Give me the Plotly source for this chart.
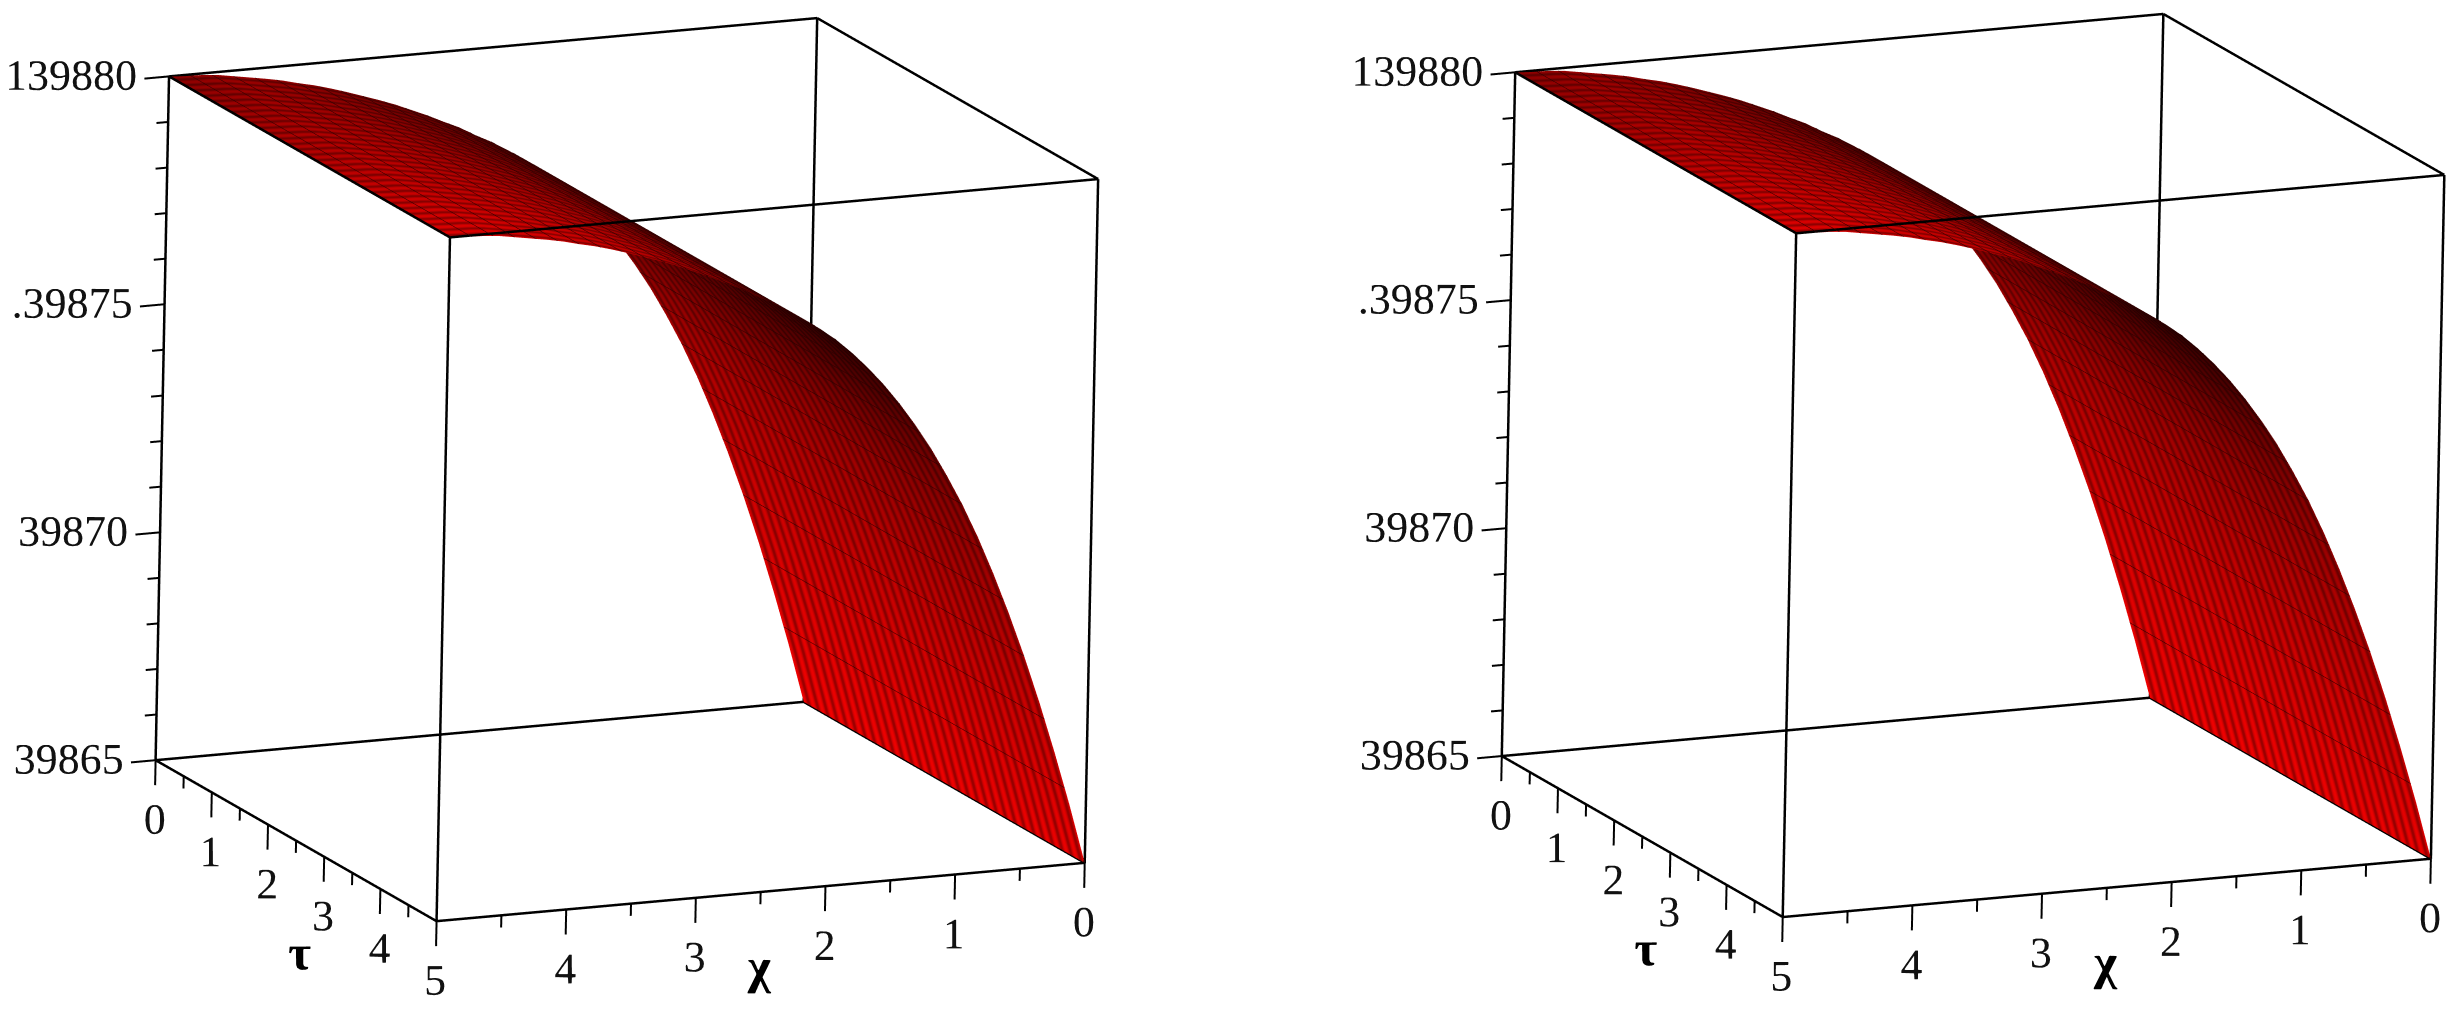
import numpy as np
import plotly.graph_objects as go

chi_values = [5.0,4.875,4.75,4.625,4.5,4.375,4.25,4.125,4.0,3.875,3.75,3.625,3.5,3.375,3.25,3.125,3.0,2.875,2.75,2.625,2.5,2.375,2.25,2.125,2.0,1.875,1.75,1.625,1.5,1.375,1.25,1.125,1.0,0.875,0.75,0.625,0.5,0.375,0.25,0.125,0.0]
u_profile = [39880.00,39879.98,39879.97,39879.94,39879.88,39879.82,39879.76,39879.69,39879.60,39879.52,39879.42,39879.31,39879.19,39879.07,39878.94,39878.79,39878.64,39878.47,39878.31,39878.11,39877.93,39877.72,39877.50,39877.26,39876.99,39876.67,39876.31,39875.91,39875.46,39874.96,39874.41,39873.79,39873.12,39872.37,39871.54,39870.64,39869.67,39868.62,39867.49,39866.29,39865.00]
shade_x = [5,4.5,4,3.5,3,2.5,2,1.5,1,0.5,0]
shade_tau0 = [.55,.60,.55,.45,.38,.30,.36,.50,.68,.82,.94]
shade_tau5 = [.88,.85,.82,.75,.60,.35,.17,.30,.52,.72,.92]
stripe_shade = [1.0,1.0,0.88,0.66,0.66,0.88]

x_major = [0,1,2,3,4,5]
x_minor = [0.5,1.5,2.5,3.5,4.5]
tau_major = [0,1,2,3,4,5]
tau_minor = [0.5,1.5,2.5,3.5,4.5]
z_major = [39865,39870,39875,39880]
z_minor = [39866,39867,39868,39869,39871,39872,39873,39874,39876,39877,39878,39879]
x_labels = ["0","1","2","3","4","5"]
tau_labels = ["0","1","2","3","4","5"]
z_labels = ["39865","39870",".39875","139880"]

X0,X1 = 0,5
T0,T1 = 0,5
Z0,Z1 = 39865,39880
FONT = "Liberation Serif"
CELLS = 30
SUB = len(stripe_shade)

tau_grid = np.linspace(0,5,CELLS*SUB+1)
stripe = np.array([stripe_shade[i%SUB] for i in range(len(tau_grid))])
Z = np.tile(np.array(u_profile)[:,None],(1,len(tau_grid))).T
xs_sorted = np.array(shade_x)[::-1]
b0 = np.interp(chi_values,xs_sorted,np.array(shade_tau0)[::-1])
b5 = np.interp(chi_values,xs_sorted,np.array(shade_tau5)[::-1])
w = tau_grid[:,None]/5.0
C = (b0[None,:]*(1-w)+b5[None,:]*w)*stripe[:,None]

def seg(pairs):
    xs,ys,zs=[],[],[]
    for a,b in pairs:
        xs+= [a[0],b[0],None]; ys+=[a[1],b[1],None]; zs+=[a[2],b[2],None]
    return xs,ys,zs

def traces(scene):
    out=[]
    out.append(go.Surface(x=chi_values,y=tau_grid,z=Z,surfacecolor=C,cmin=0,cmax=1,
        colorscale=[[0,"#000000"],[1,"#ff0000"]],showscale=False,hoverinfo="skip",scene=scene,
        lighting=dict(ambient=1,diffuse=0,specular=0,fresnel=0,roughness=1),
        contours=dict(
            x=dict(show=True,start=0,end=5,size=1/6,color="#2a0000",width=2,highlight=False),
            y=dict(show=False,highlight=False),
            z=dict(show=False,highlight=False))))
    corners=[]
    for a in (X0,X1):
        for b in (T0,T1):
            corners.append(((a,b,Z0),(a,b,Z1)))
    for a in (X0,X1):
        for c in (Z0,Z1):
            corners.append(((a,T0,c),(a,T1,c)))
    for b in (T0,T1):
        for c in (Z0,Z1):
            corners.append(((X0,b,c),(X1,b,c)))
    xs,ys,zs=seg(corners)
    out.append(go.Scatter3d(x=xs,y=ys,z=zs,mode="lines",line=dict(color="#000000",width=5),hoverinfo="skip",scene=scene,showlegend=False))
    ticks=[]
    for v in x_major: ticks.append(((v,T1,Z0),(v,T1,Z0-0.55)))
    for v in x_minor: ticks.append(((v,T1,Z0),(v,T1,Z0-0.27)))
    for v in tau_major: ticks.append(((X1,v,Z0),(X1,v,Z0-0.55)))
    for v in tau_minor: ticks.append(((X1,v,Z0),(X1,v,Z0-0.27)))
    for v in z_major: ticks.append(((X1,T0,v),(X1+0.19,T0,v)))
    for v in z_minor: ticks.append(((X1,T0,v),(X1+0.09,T0,v)))
    xs,ys,zs=seg(ticks)
    out.append(go.Scatter3d(x=xs,y=ys,z=zs,mode="lines",line=dict(color="#000000",width=4),hoverinfo="skip",scene=scene,showlegend=False))
    f=dict(family=FONT,size=44,color="#111111")
    out.append(go.Scatter3d(x=x_major,y=[T1]*6,z=[Z0-1.3]*6,mode="text",text=x_labels,textfont=f,textposition="middle center",hoverinfo="skip",scene=scene,showlegend=False))
    out.append(go.Scatter3d(x=[X1]*6,y=tau_major,z=[Z0-1.3]*6,mode="text",text=tau_labels,textfont=f,textposition="middle center",hoverinfo="skip",scene=scene,showlegend=False))
    out.append(go.Scatter3d(x=[X1-0.08]*4,y=[T0]*4,z=z_major,mode="text",text=z_labels,textfont=f,textposition="middle left",hoverinfo="skip",scene=scene,showlegend=False))
    fb=dict(family=FONT,size=50,color="#000000",weight="bold")
    out.append(go.Scatter3d(x=[2.5],y=[T1],z=[Z0-1.85],mode="text",text=["χ"],textfont=fb,textposition="middle center",hoverinfo="skip",scene=scene,showlegend=False))
    out.append(go.Scatter3d(x=[X1],y=[2.6],z=[Z0-2.5],mode="text",text=["τ"],textfont=fb,textposition="middle center",hoverinfo="skip",scene=scene,showlegend=False))
    return out

r=np.array([-.9143,.4044,.0190]); s=np.array([-.0823,-.2317,.9692]); n=np.array([.3963,.8846,.2451])
R=3.0
K=495.0
A=1.4*1.41*0.975
def camera(dx,dy):
    c=-(dx*r+dy*s)/K
    e=c+n*R
    return dict(projection=dict(type="orthographic"),up=dict(x=s[0],y=s[1],z=s[2]),
                center=dict(x=c[0],y=c[1],z=c[2]),eye=dict(x=e[0],y=e[1],z=e[2]))
ax=dict(visible=False,showgrid=False,zeroline=False,showbackground=False,showspikes=False)
def scene(dom,dx,dy):
    return dict(domain=dict(x=dom,y=[0,1]),camera=camera(dx,dy),aspectmode="manual",
        aspectratio=dict(x=A*1.01,y=A*.99,z=A*1.005),
        xaxis=dict(range=[-1,6],**ax),yaxis=dict(range=[-1,6],**ax),zaxis=dict(range=[39862,39883],**ax))

fig=go.Figure()
for t in traces("scene"): fig.add_trace(t)
for t in traces("scene2"): fig.add_trace(t)
fig.update_layout(width=2459,height=1021,margin=dict(l=0,r=0,t=0,b=0),paper_bgcolor="#ffffff",showlegend=False,
    scene=scene([0,.5],3.75,47.4),scene2=scene([.5,1],116.4,51.4))
fig.write_html("out.html")
